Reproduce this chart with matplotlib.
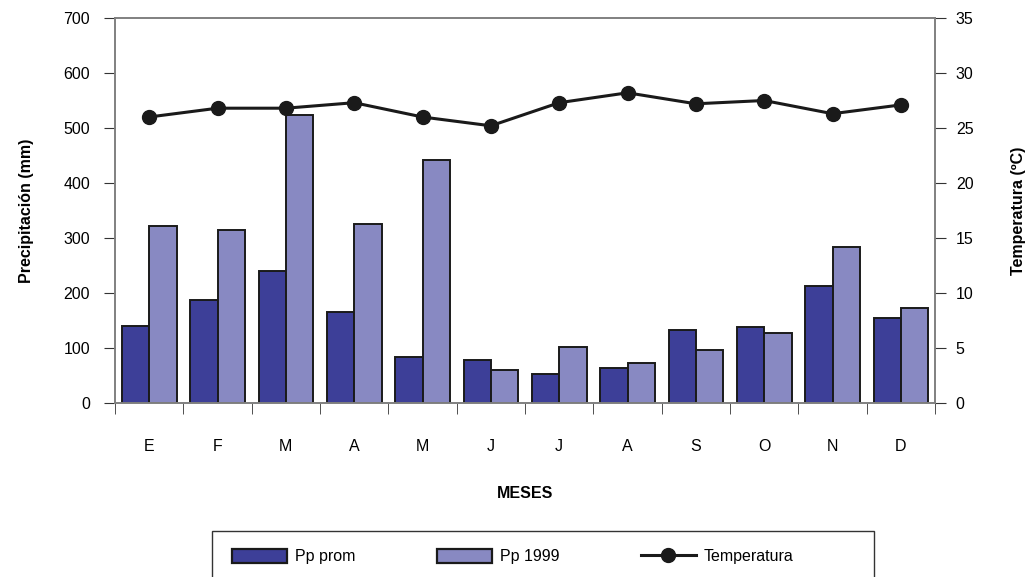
import numpy as np
import matplotlib
matplotlib.use("Agg")
import matplotlib.pyplot as plt
from matplotlib.patches import Patch, Rectangle
from matplotlib.lines import Line2D

plt.rcParams['font.family'] = ['Liberation Sans', 'DejaVu Sans']

meses = ['E', 'F', 'M', 'A', 'M', 'J', 'J', 'A', 'S', 'O', 'N', 'D']
pp_prom = [140, 188, 240, 165, 84, 78, 52, 64, 133, 138, 213, 154]
pp_1999 = [321, 315, 524, 326, 441, 60, 102, 73, 97, 128, 284, 172]
temperatura = [26.0, 26.8, 26.8, 27.3, 26.0, 25.2, 27.3, 28.2, 27.2, 27.5, 26.3, 27.1]

c_prom = '#3d3f98'
c_1999 = '#8889c2'
c_edge = '#1a1a1a'
c_spine = '#808080'

W, H = 1028, 577
fig = plt.figure(figsize=(W / 100, H / 100), dpi=100)
ax = fig.add_axes([115 / W, 1 - 403 / H, 820 / W, 385 / H])

x = np.arange(len(meses))
w = 0.4
ax.bar(x - w / 2, pp_prom, w, color=c_prom, edgecolor=c_edge, linewidth=1.4, zorder=2)
ax.bar(x + w / 2, pp_1999, w, color=c_1999, edgecolor=c_edge, linewidth=1.4, zorder=2)

ax.set_xlim(-0.5, len(meses) - 0.5)
ax.set_ylim(0, 700)
ax.set_yticks(range(0, 701, 100))
ax.set_xticks(x)
ax.set_xticklabels(meses)
ax.set_xticks(np.arange(-0.5, len(meses), 1), minor=True)
ax.tick_params(axis='x', which='major', length=0, pad=26, labelsize=11.5)
ax.tick_params(axis='x', which='minor', length=8, direction='out', color='#333333')
ax.tick_params(axis='y', length=8, direction='out', pad=10, labelsize=11.5, color='#333333')
for s in ax.spines.values():
    s.set_color(c_spine)
    s.set_linewidth(1.2)

ax.set_xlabel('MESES', fontsize=11.5, fontweight='bold', labelpad=23)
ax.set_ylabel('Precipitación (mm)', fontsize=11.5, fontweight='bold', labelpad=21)

ax2 = ax.twinx()
ax2.plot(x, temperatura, color=c_edge, linewidth=2.2, marker='o', markersize=10, zorder=3)
ax2.set_ylim(0, 35)
ax2.set_yticks(range(0, 36, 5))
ax2.tick_params(axis='y', length=8, direction='out', pad=7, labelsize=11.5, color='#333333')
for s in ax2.spines.values():
    s.set_color(c_spine)
    s.set_linewidth(1.2)
ax2.set_ylabel('Temperatura (ºC)', fontsize=11.5, fontweight='bold', labelpad=27)

# legend box, cut by the bottom edge like in the original
fig.add_artist(Rectangle((212 / W, -0.05), 662 / W, (1 - 531 / H) + 0.05,
                         transform=fig.transFigure, fill=False,
                         edgecolor='#333333', linewidth=1.0))

handles = [
    Patch(facecolor=c_prom, edgecolor=c_edge, linewidth=1.6),
    Patch(facecolor=c_1999, edgecolor=c_edge, linewidth=1.6),
    Line2D([0], [0], color=c_edge, linewidth=2.2, marker='o', markersize=10),
]
fig.legend(handles, ['Pp prom', 'Pp 1999', 'Temperatura'], ncol=3,
           loc='upper left', bbox_to_anchor=(232 / W, 1 - 549 / H),
           fontsize=11.5, frameon=False, borderpad=0, borderaxespad=0,
           handlelength=3.44, handleheight=0.95, handletextpad=0.5,
           columnspacing=5.1)

fig.savefig('out.png', dpi=100)
